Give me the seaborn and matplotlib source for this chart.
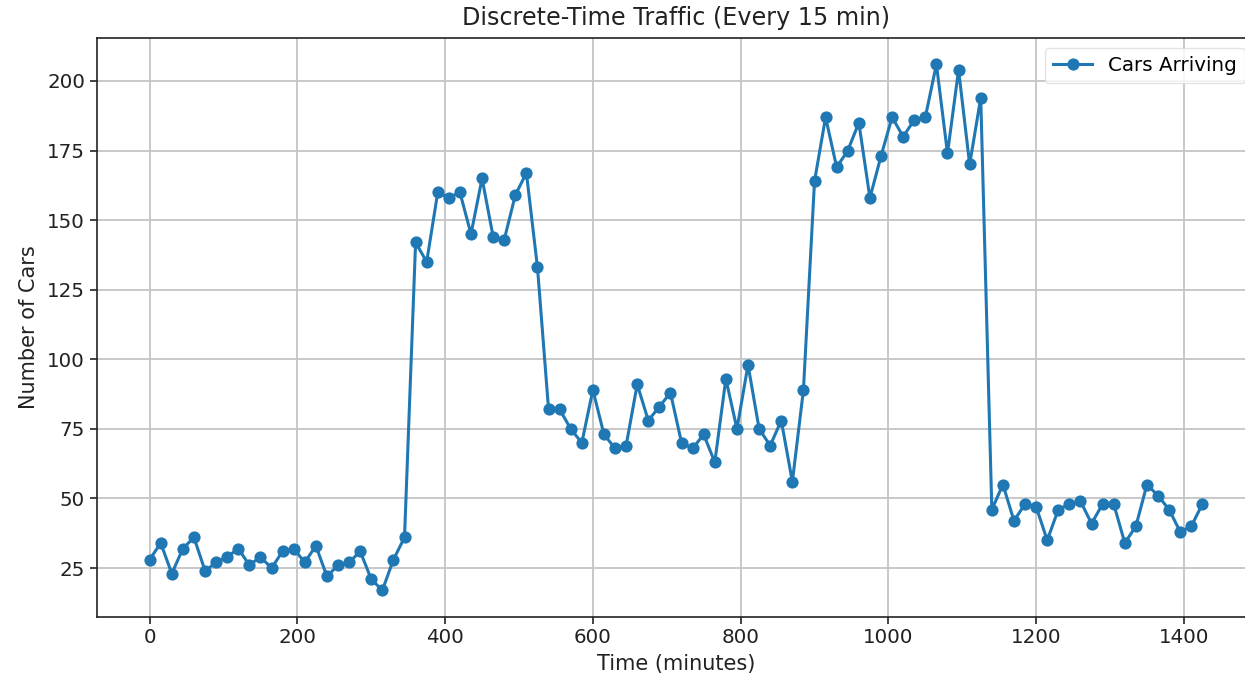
import matplotlib
matplotlib.use("Agg")
import matplotlib.pyplot as plt
import seaborn as sns
import numpy as np
import pandas as pd

time_minutes = list(range(0, 1440, 15))
cars_arriving = [
    28, 34, 23, 32, 36, 24, 27, 29, 32, 26, 29, 25, 31, 32, 27, 33,
    22, 26, 27, 31, 21, 17, 28, 36, 142, 135, 160, 158, 160, 145, 165, 144,
    143, 159, 167, 133, 82, 82, 75, 70, 89, 73, 68, 69, 91, 78, 83, 88,
    70, 68, 73, 63, 93, 75, 98, 75, 69, 78, 56, 89, 164, 187, 169, 175,
    185, 158, 173, 187, 180, 186, 187, 206, 174, 204, 170, 194, 46, 55, 42, 48,
    47, 35, 46, 48, 49, 41, 48, 48, 34, 40, 55, 51, 46, 38, 40, 48,
]
title = "Discrete-Time Traffic (Every 15 min)"
xlabel = "Time (minutes)"
ylabel = "Number of Cars"
series_label = "Cars Arriving"

df = pd.DataFrame({"time": time_minutes, "cars": cars_arriving})

plt.rcParams['font.family'] = ['DejaVu Sans']

W, H = 1245, 681
fig = plt.figure(figsize=(W / 100, H / 100), dpi=100)
left, right, top, bottom = 97, 1255, 38, 616.6
ax = fig.add_axes([left / W, 1 - bottom / H, (right - left) / W, (bottom - top) / H])

sns.lineplot(data=df, x="time", y="cars", marker="o", color="#1f77b4",
             linewidth=2.2, markersize=8.8, markeredgewidth=0,
             label=series_label, ax=ax)

ax.set_title(title, fontsize=17.2, pad=9, color="#222222")
ax.set_xlabel(xlabel, fontsize=15, color="#222222", labelpad=5)
ax.set_ylabel(ylabel, fontsize=15, color="#222222", labelpad=6)
ax.tick_params(labelsize=14.3, length=5, width=1.2, colors="#222222")
ax.set_xticks([0, 200, 400, 600, 800, 1000, 1200, 1400])
ax.set_yticks([25, 50, 75, 100, 125, 150, 175, 200])
ax.grid(True, color="#c4c4c4", linewidth=1.3)
ax.set_axisbelow(True)
for s in ax.spines.values():
    s.set_color("#222222")
    s.set_linewidth(1.2)
leg = ax.legend(loc="upper right", fontsize=14.3, frameon=True, fancybox=True,
                borderaxespad=0.5)
leg.get_frame().set_edgecolor("#dddddd")

fig.savefig("out.png", dpi=100)
